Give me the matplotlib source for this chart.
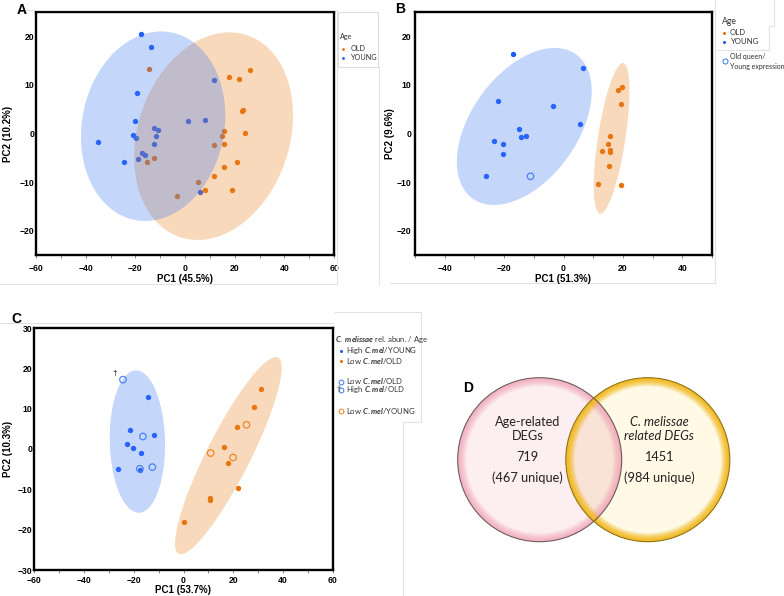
import numpy as np
import matplotlib
matplotlib.use('Agg')
import matplotlib.pyplot as plt
from matplotlib.patches import Circle, Rectangle
from matplotlib.ticker import MultipleLocator

W, H = 784, 596

plt.rcParams['font.family'] = ['Liberation Sans', 'DejaVu Sans']
plt.rcParams['font.weight'] = 'bold'
plt.rcParams['mathtext.fontset'] = 'custom'
plt.rcParams['mathtext.rm'] = 'Lato'
plt.rcParams['mathtext.it'] = 'Lato:italic'

# ---- panel A : PC1 (45.5%) / PC2 (10.2%)
a_young_x = [-17.9, -13.7, -19.5, -20.2, -35.1, -24.6, -21.1, -19.8, -19.0, -17.4,
             -16.3, -12.4, -10.9, -11.8, -12.4, 1.3, 7.9, 11.7, 5.9]
a_young_y = [20.4, 17.7, 8.3, 2.5, -1.8, -5.8, -0.4, -1.0, -5.3, -4.0,
             -4.5, 1.1, 0.8, -0.5, -2.1, 2.5, 2.7, 11.0, -12.1]
a_old_x = [-14.4, -15.2, -12.4, -3.2, 5.2, 15.6, 14.8, 11.7, 15.9, 17.9,
           21.7, 26.0, 23.0, 23.4, 24.1, 20.9, 15.9, 11.7, 7.9, 19.0]
a_old_y = [13.2, -5.8, -5.0, -12.9, -9.9, 0.5, -0.5, -2.3, -2.1, 11.6,
           11.2, 13.1, 4.6, 4.8, 0.1, -5.8, -6.8, -8.7, -11.6, -11.6]
# ellipse: centre x, centre y, half width, half height, correlation
a_young_ell = [-12.85, 1.5, 29.05, 19.5, 0.11]
a_old_ell = [11.5, -0.55, 32.0, 21.35, 0.2]

# ---- panel B : PC1 (51.3%) / PC2 (9.6%)
b_young_x = [-16.9, 6.5, -21.9, -3.5, 5.6, -15.1, -14.3, -12.6, -23.4, -20.5, -20.5, -26.1]
b_young_y = [16.4, 13.5, 6.7, 5.7, 2.0, 0.9, -0.8, -0.5, -1.5, -2.1, -4.3, -8.8]
b_oldq_x = [-11.1]
b_oldq_y = [-8.8]
b_old_x = [18.5, 19.7, 19.4, 15.5, 14.9, 12.8, 15.6, 15.8, 15.2, 11.7, 19.2]
b_old_y = [9.0, 9.5, 6.0, -0.5, -2.1, -3.7, -3.4, -3.9, -6.7, -10.3, -10.5]
b_young_ell = [-13.2, 1.45, 22.7, 16.15, 0.45]
b_old_ell = [16.2, -1.0, 6.0, 15.5, 0.63]

# ---- panel C : PC1 (53.7%) / PC2 (10.3%)
c_hy_x = [-14.2, -21.6, -22.7, -20.4, -12.0, -17.2, -26.2, -17.5]
c_hy_y = [13.0, 4.8, 1.3, 0.3, 3.4, -1.0, -5.0, -5.3]
c_lo_blue_x = [-16.3, -12.5, -17.5]
c_lo_blue_y = [3.1, -4.5, -4.9]
c_ho_x = [-24.3]
c_ho_y = [17.2]
c_lo_x = [31.3, 28.4, 21.5, 16.1, 17.7, 21.8, 10.8, 10.8, 0.1]
c_lo_y = [15.0, 10.5, 5.5, 0.5, -3.4, -9.7, -12.2, -12.7, -18.2]
c_ly_x = [25.3, 10.9, 19.9]
c_ly_y = [6.0, -1.0, -2.1]
c_young_ell = [-18.5, 1.85, 11.1, 17.65, -0.05]
c_old_ell = [18.0, -1.65, 21.4, 24.45, 0.89]

# ---- panel D : Venn
age_total, age_unique = 719, 467
cmel_total, cmel_unique = 1451, 984

BLUE = '#1e5cff'
ORANGE = '#e8710a'
BLUE_E = '#4179f2'
ORANGE_E = '#e88420'
OPEN_B = '#4d86f5'
OPEN_O = '#ec8a30'

fig = plt.figure(figsize=(W / 100, H / 100), dpi=100)


def add_ax(l, t, r, b):
    return fig.add_axes([l / W, 1 - b / H, (r - l) / W, (b - t) / H])


def ellipse(ax, p, color):
    cx, cy, sx, sy, rho = p
    t = np.linspace(0, 2 * np.pi, 300)
    x = cx + sx * np.cos(t)
    y = cy + sy * (rho * np.cos(t) + np.sqrt(1 - rho ** 2) * np.sin(t))
    ax.fill(x, y, color=color, alpha=0.3, lw=0, zorder=3)


def style(ax, xlim, ylim, xstep, ystep, xpad, ypad):
    ax.set_xlim(xlim)
    ax.set_ylim(ylim)
    ax.xaxis.set_major_locator(MultipleLocator(xstep))
    ax.xaxis.set_minor_locator(MultipleLocator(xstep / 2))
    ax.yaxis.set_major_locator(MultipleLocator(ystep))
    for s in ax.spines.values():
        s.set_linewidth(1.7)
    ax.tick_params(axis='x', which='both', direction='out', length=2, width=0.6,
                   color='#777777', pad=xpad, labelsize=6.2)
    ax.tick_params(axis='y', length=0, pad=ypad, labelsize=6.2)


dot = dict(s=15, linewidths=0, zorder=2)
ring = dict(s=22, facecolors='none', linewidths=0.9, zorder=2)

# panel A
axA = add_ax(36, 12, 334, 255)
axA.scatter(a_young_x, a_young_y, color=BLUE, **dot)
axA.scatter(a_old_x, a_old_y, color=ORANGE, **dot)
ellipse(axA, a_old_ell, ORANGE_E)
ellipse(axA, a_young_ell, BLUE_E)
style(axA, (-60, 60), (-25, 25), 20, 10, 4.5, 1.2)

# panel B
axB = add_ax(415, 12, 712, 255)
axB.scatter(b_young_x, b_young_y, color=BLUE, **dot)
axB.scatter(b_oldq_x, b_oldq_y, edgecolors=OPEN_B, **ring)
axB.scatter(b_old_x, b_old_y, color=ORANGE, **dot)
ellipse(axB, b_young_ell, BLUE_E)
ellipse(axB, b_old_ell, ORANGE_E)
style(axB, (-50, 50), (-25, 25), 20, 10, 4.5, 2.5)

# panel C
axC = add_ax(34, 328, 333, 570)
axC.scatter(c_hy_x, c_hy_y, color=BLUE, **dot)
axC.scatter(c_lo_blue_x, c_lo_blue_y, edgecolors=OPEN_B, **ring)
axC.scatter(c_ho_x, c_ho_y, edgecolors=OPEN_B, **ring)
for x, y in zip(c_ho_x, c_ho_y):
    axC.annotate('\u2020', (x, y), xytext=(-6, 2), textcoords='offset points',
                 fontsize=6, fontweight='normal', ha='center', va='bottom')
axC.scatter(c_lo_x, c_lo_y, color=ORANGE, **dot)
axC.scatter(c_ly_x, c_ly_y, edgecolors=OPEN_O, **ring)
ellipse(axC, c_young_ell, BLUE_E)
ellipse(axC, c_old_ell, ORANGE_E)
style(axC, (-60, 60), (-30, 30), 20, 10, 2.0, 1.0)

# overlay in pixel coordinates for labels, legends, frames and the Venn diagram
bg = fig.add_axes([0, 0, 1, 1], zorder=10)
bg.set_xlim(0, W)
bg.set_ylim(H, 0)
bg.axis('off')

lab = dict(fontsize=7, fontweight='bold', ha='center', va='center')
bg.text(185, 279, 'PC1 (45.5%)', **lab)
bg.text(8, 134, 'PC2 (10.2%)', rotation=90, **lab)
bg.text(563, 279, 'PC1 (51.3%)', **lab)
bg.text(390, 134, 'PC2 (9.6%)', rotation=90, **lab)
bg.text(183, 590, 'PC1 (53.7%)', **lab)
bg.text(8, 449, 'PC2 (10.3%)', rotation=90, **lab)

let = dict(fontsize=10, fontweight='bold', ha='center', va='center')
bg.text(21.5, 10.5, 'A', **let)
bg.text(400, 9, 'B', **let)
bg.text(16, 319, 'C', **let)
bg.text(468, 388, 'D', **let)

# faint report frames
fr = dict(color='#e2e2e2', lw=0.8)
bg.plot([20, 337, 337, 0], [10, 10, 284, 284], **fr)
bg.add_patch(Rectangle((338, 12), 40, 55, fill=False, ec='#dddddd', lw=0.8))
bg.plot([379, 379], [67, 284], **fr)
bg.plot([390, 715, 715], [283, 283, 0], **fr)
bg.plot([718, 769, 769, 774, 774], [50, 50, 26, 26, 0], **fr)
bg.plot([0, 333], [323, 323], **fr)
bg.plot([335, 421, 421, 403, 403], [312, 312, 422, 422, 596], **fr)

leg = dict(fontsize=5.2, fontweight='normal', family='Lato', va='center', color='#333333')
# legend A
bg.text(340, 37, 'Age', **leg)
bg.plot([343.5], [48.7], 'o', ms=2, color=ORANGE, mew=0)
bg.text(350.5, 48.7, 'OLD', **leg)
bg.plot([343.5], [57.7], 'o', ms=2, color=BLUE, mew=0)
bg.text(350.5, 57.7, 'YOUNG', **leg)
# legend B
bg.text(721.5, 21, 'Age', **dict(leg, fontsize=6.2))
bg.plot([724.5], [32.7], 'o', ms=2.2, color=ORANGE, mew=0)
bg.text(730, 32.7, 'OLD', **dict(leg, fontsize=5.6))
bg.plot([724.5], [42], 'o', ms=2.2, color=BLUE, mew=0)
bg.text(730, 42, 'YOUNG', **dict(leg, fontsize=5.6))
bg.plot([725], [61], 'o', ms=3.6, mfc='none', mec=OPEN_B, mew=0.8)
bg.text(730, 56, 'Old queen/', **dict(leg, fontsize=5))
bg.text(730, 66, 'Young expression', **dict(leg, fontsize=5))
# legend C
cm = r'$\mathit{C.mel}$'
bg.text(335, 339.5, r'$\mathit{C.\ melissae}$ rel. abun. / Age', **dict(leg, fontsize=5.6))
bg.plot([341.3], [350.5], 'o', ms=2.2, color=BLUE, mew=0)
bg.text(345.7, 350.5, 'High ' + cm + '/YOUNG', **dict(leg, fontsize=5.6))
bg.plot([341.3], [360.5], 'o', ms=2.2, color=ORANGE, mew=0)
bg.text(345.7, 360.5, 'Low ' + cm + '/OLD', **dict(leg, fontsize=5.6))
bg.plot([341], [381.5], 'o', ms=3.4, mfc='none', mec=OPEN_B, mew=0.8)
bg.text(345.7, 380.5, 'Low ' + cm + '/OLD', **dict(leg, fontsize=5.6))
bg.text(336.7, 389, '\u2020', **dict(leg, fontsize=5.2))
bg.plot([341], [390.3], 'o', ms=3.4, mfc='none', mec=OPEN_B, mew=0.8)
bg.text(345.7, 389.8, 'High ' + cm + '/OLD', **dict(leg, fontsize=5.6))
bg.plot([341], [410.5], 'o', ms=3.4, mfc='none', mec=OPEN_O, mew=0.8)
bg.text(345.7, 410.5, 'Low ' + cm + '/YOUNG', **dict(leg, fontsize=5.6))

# Venn diagram
r = 82
lc = (539.7, 459.7)
rc = (647.8, 459.7)
bg.add_patch(Circle(lc, r, fc='#fdeef1', ec='none'))
bg.add_patch(Circle(rc, r, fc='#fff9e6', ec='none'))
ov = Circle(rc, r, fc='#f9e2d6', ec='none')
bg.add_patch(ov)
ov.set_clip_path(Circle(lc, r, transform=bg.transData))
for k in range(9):
    a = 0.6 * (1 - k / 9)
    bg.add_patch(Circle(lc, r - 0.9 - k * 0.9, fill=False, ec='#f0a2b5', lw=1.2, alpha=a))
for k in range(9):
    a = 0.85 * (1 - k / 9)
    bg.add_patch(Circle(rc, r - 0.9 - k * 0.9, fill=False, ec='#f2b81a', lw=1.2, alpha=a))
bg.add_patch(Circle(lc, r, fill=False, ec='#6e5858', lw=0.8))
bg.add_patch(Circle(rc, r, fill=False, ec='#8f7210', lw=0.8))

vt = dict(fontsize=9.2, fontweight='normal', family='Lato', ha='center', va='center',
          color='#222222')
bg.text(527.7, 421.7, 'Age-related', **vt)
bg.text(527.7, 436, 'DEGs', **vt)
bg.text(527.7, 456.7, str(age_total), **vt)
bg.text(527.7, 477.7, '(%d unique)' % age_unique, **vt)
bg.text(659, 421.7, 'C. melissae', style='italic', **vt)
bg.text(659, 436, 'related DEGs', style='italic', **vt)
bg.text(659, 456.7, str(cmel_total), **vt)
bg.text(659, 477.7, '(%d unique)' % cmel_unique, **vt)

fig.savefig('out.png', dpi=100, facecolor='white')
